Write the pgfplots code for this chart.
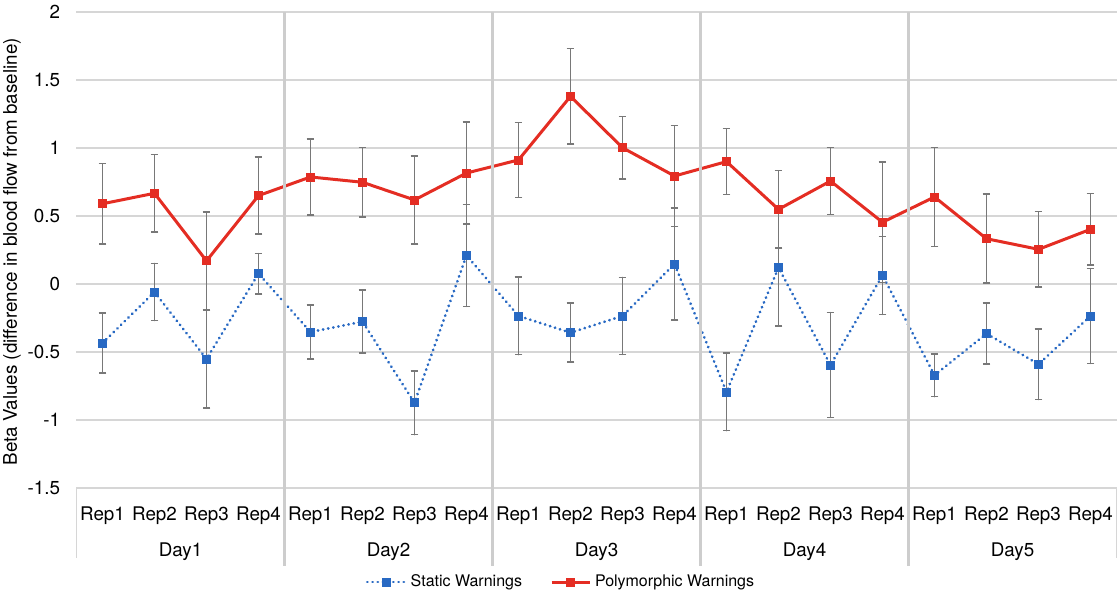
\documentclass[border=0pt]{standalone}
\usepackage{fontspec}
\setmainfont{TeX Gyre Heros}
\usepackage{pgfplots}
\pgfplotsset{compat=1.18}
\usepackage{pgfplotstable}
\definecolor{polyred}{RGB}{228,45,35}
\definecolor{statblue}{RGB}{40,105,195}
\definecolor{gridgray}{RGB}{214,214,214}
\definecolor{sepgray}{RGB}{205,205,205}
\definecolor{errgray}{RGB}{120,120,120}
\newcommand\bigf{\fontsize{9.4bp}{11bp}\selectfont}
\newcommand\smallf{\fontsize{8bp}{10bp}\selectfont}

\pgfplotstableread{
x y e
0 -0.434 0.22
1 -0.059 0.21
2 -0.551 0.36
3 0.076 0.148
4 -0.353 0.20
5 -0.277 0.232
6 -0.873 0.235
7 0.21 0.375
8 -0.235 0.285
9 -0.358 0.217
10 -0.235 0.283
11 0.147 0.413
12 -0.794 0.285
13 0.12 0.43
14 -0.596 0.385
15 0.064 0.287
16 -0.671 0.158
17 -0.365 0.225
18 -0.59 0.26
19 -0.235 0.348
}\statictable

\pgfplotstableread{
x y e
0 0.59 0.297
1 0.667 0.286
2 0.17 0.36
3 0.65 0.283
4 0.787 0.279
5 0.748 0.255
6 0.618 0.325
7 0.816 0.375
8 0.912 0.277
9 1.38 0.351
10 1.002 0.231
11 0.794 0.37
12 0.90 0.243
13 0.549 0.285
14 0.757 0.245
15 0.454 0.443
16 0.64 0.363
17 0.333 0.327
18 0.255 0.278
19 0.402 0.262
}\polytable

\begin{document}
\begin{tikzpicture}
\begin{axis}[
  scale only axis, width=520bp, height=238bp,
  at={(0,0)}, anchor=south west,
  xmin=-0.5, xmax=19.5, ymin=-1.5, ymax=2,
  clip=false,
  ytick={-1.5,-1,-0.5,0,0.5,1,1.5,2},
  yticklabels={-1.5,-1,-0.5,0,0.5,1,1.5,2},
  xtick={0,...,19},
  xticklabels={Rep1,Rep2,Rep3,Rep4,Rep1,Rep2,Rep3,Rep4,Rep1,Rep2,Rep3,Rep4,Rep1,Rep2,Rep3,Rep4,Rep1,Rep2,Rep3,Rep4},
  axis line style={draw=none}, tick style={draw=none},
  ymajorgrids, grid style={gridgray, line width=0.9bp},
  yticklabel style={font=\bigf, anchor=east, inner sep=0pt, xshift=-8bp},
  xticklabel style={font=\bigf, anchor=base, inner sep=0pt, yshift=-16bp},
  every axis y label/.style={at={(axis description cs:-0.062,0.496)}, rotate=90, anchor=center, font=\bigf},
  ylabel={Beta Values (difference in blood flow from baseline)},
  legend style={at={(axis description cs:0.4668,-0.1975)}, anchor=center, draw=none, fill=none,
    legend columns=2, font=\smallf, inner sep=0pt,
    /tikz/every even column/.append style={column sep=12bp}},
  legend image code/.code={\draw[mark repeat=2,mark phase=2,#1] plot coordinates {(0bp,0bp) (9.5bp,0bp) (19bp,0bp)};},
  error bars/error bar style={errgray, solid, line width=0.75bp},
  error bars/error mark options={rotate=90, errgray, solid, mark size=1.9bp, line width=0.75bp},
]
\addplot[statblue, line width=1.45bp, dash pattern=on 0.1bp off 2.5bp, line cap=round,
  mark=square*, mark size=2.0bp, mark options={solid, fill=statblue, line width=0.4bp},
  error bars/.cd, y dir=both, y explicit]
  table[x=x, y=y, y error=e]{\statictable};
\addlegendentry{Static Warnings}
\addplot[polyred, line width=1.5bp,
  mark=square*, mark size=2.0bp, mark options={solid, fill=polyred, line width=0.4bp},
  error bars/.cd, y dir=both, y explicit]
  table[x=x, y=y, y error=e]{\polytable};
\addlegendentry{Polymorphic Warnings}

\draw[sepgray, line width=1.1bp] (axis cs:3.5,2) -- ([yshift=-39bp]axis cs:3.5,-1.5);
\draw[sepgray, line width=1.1bp] (axis cs:7.5,2) -- ([yshift=-39bp]axis cs:7.5,-1.5);
\draw[sepgray, line width=1.1bp] (axis cs:11.5,2) -- ([yshift=-39bp]axis cs:11.5,-1.5);
\draw[sepgray, line width=1.1bp] (axis cs:15.5,2) -- ([yshift=-39bp]axis cs:15.5,-1.5);
\draw[gridgray, line width=0.9bp] (axis cs:-0.5,-1.5) -- ([yshift=-35bp]axis cs:-0.5,-1.5);
\draw[gridgray, line width=0.9bp] (axis cs:19.5,-1.5) -- ([yshift=-35bp]axis cs:19.5,-1.5);
\node[font=\bigf, anchor=base, inner sep=0pt, yshift=-34bp] at (axis cs:1.5,-1.5) {Day1};
\node[font=\bigf, anchor=base, inner sep=0pt, yshift=-34bp] at (axis cs:5.5,-1.5) {Day2};
\node[font=\bigf, anchor=base, inner sep=0pt, yshift=-34bp] at (axis cs:9.5,-1.5) {Day3};
\node[font=\bigf, anchor=base, inner sep=0pt, yshift=-34bp] at (axis cs:13.5,-1.5) {Day4};
\node[font=\bigf, anchor=base, inner sep=0pt, yshift=-34bp] at (axis cs:17.5,-1.5) {Day5};
\end{axis}
\pgfresetboundingbox
\path[use as bounding box] (-38.25bp,-53bp) rectangle (520.25bp,244bp);
\end{tikzpicture}
\end{document}
